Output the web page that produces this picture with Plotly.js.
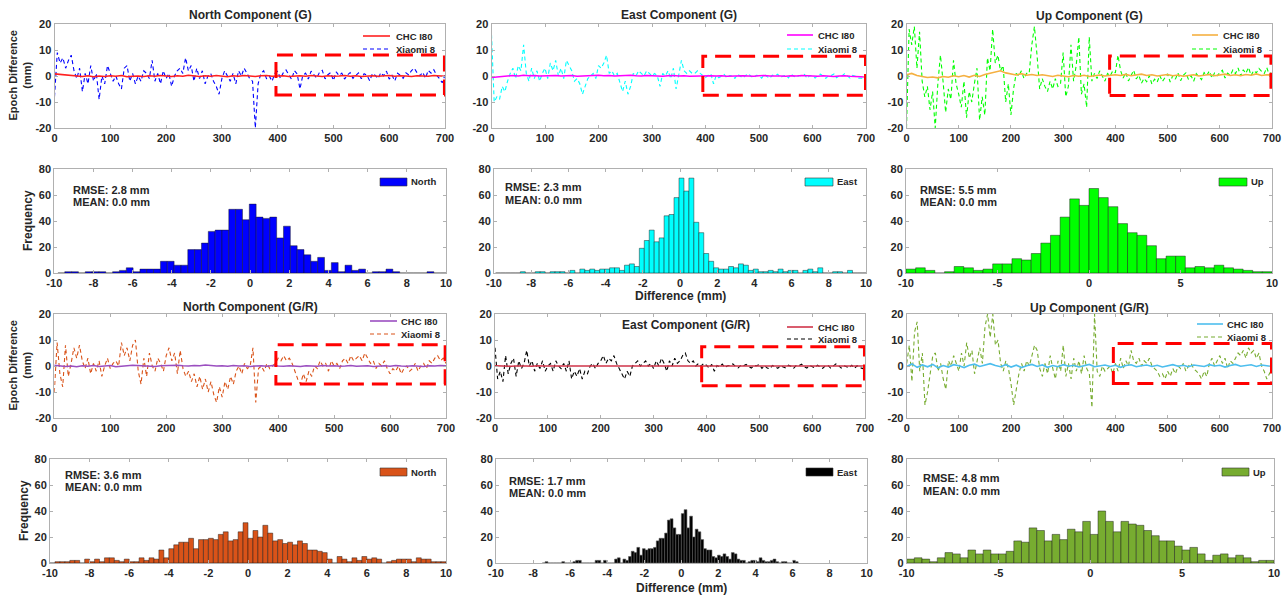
<!DOCTYPE html>
<html><head><meta charset="utf-8">
<script src="https://cdn.plot.ly/plotly-3.0.1.min.js"></script>
<style>html,body{margin:0;padding:0;background:#fff;} #chart{width:1287px;height:596px;}</style>
</head><body><div id="chart"></div>
<script>
// ---------------- DATA ----------------
const epochStepXiaomi = 5;   // epochs between read samples
const epochStepCHC = 10;

// Epoch difference (mm), Xiaomi 8, G solution
const northG_xiaomi = [-8,9,5,7,3,6,8,2,-1,3,-6,1,-3,4,-2,1,-9,0,-3,4,
 1,-2,0,-3,-5,3,4,-2,1,-3,0,-2,2,1,-1,6,-2,1,-3,2,
 -1,1,-4,0,2,3,1,7,2,4,-2,3,-1,2,-3,0,1,-2,-4,-7,
 -1,2,0,-2,1,-3,2,0,3,1,-1,-2,-20,-3,1,2,-1,0,-2,1,
 1.8,-0.9,1.2,2.3,0.4,-1.3,2.1,0.8,-5,0.2,1.1,-1.2,1.9,0.3,-0.8,1.4,2.2,-1.1,0.5,1.3,
 -1.7,1.6,0.2,1.1,-1.2,0.4,1.3,-0.9,0.1,1.2,-1.1,0.9,0.3,-1.8,1.0,0.2,-1.0,1.3,0.1,1.9,
 -1.2,0.3,-1.9,1.1,0.2,-0.9,1.2,0.4,2.1,3.0,1.2,0.1,1.4,-0.8,2.2,1.1,2.4,0.3,-1.0,-2.6,0.3];
const eastG_xiaomi = [16,-10,-8,-9,-4,-6,-2,1,3,-1,4,2,12,1,-2,3,-1,2,-2,1,
 3,-1,5,2,6,0,3,-1,6,4,2,-2,-1,-3,-7,-4,-1,0,1,-1,
 4,3,5,8,1,2,0,1,-3,-6,-2,-7,-4,1,0,2,1,0,2,1,
 0,1,0,-4,1,0,2,-1,3,-5,1,6,2,1,2,1,1,2,1,0,
 -0.6,0.3,0.8,-3,0.2,-0.7,0.1,0.6,-0.8,0.2,0.1,-0.9,0.7,0.0,-0.8,0.2,0.9,-0.1,-0.7,0.3,
 0.1,-0.8,0.6,-0.2,-0.9,0.3,0.1,0.7,-0.6,0.0,0.2,-0.7,0.8,-0.1,-0.6,0.2,0.1,0.6,-0.9,0.2,
 0.0,-0.8,0.3,0.7,-0.2,-0.9,0.1,0.2,0.8,-0.7,0.1,0.0,0.9,0.1,-0.8,0.2,-0.1,-0.9,-0.8,-1.0,-0.9];
const upG_xiaomi = [-20,18,12,19,3,17,-2,-8,-4,-13,-6,-20,-3,8,-2,-14,-5,-9,6,-3,
 -7,-12,-2,-16,-6,-10,-3,3,-17,-8,-15,7,2,18,5,8,2,4,-10,-3,
 -15,-5,1,0,2,-1,1,1,12,19,8,-5,-1,-4,-6,-2,-5,-1,-4,-3,
 9,-8,-4,12,-2,4,15,-7,-3,-12,15,-2,1,-1,2,0,-2,1,0,2,
 1.2,8,2.1,-0.8,1.3,-1.9,0.4,2.2,-1.1,0.3,-2.8,-0.9,-2.2,0.1,-3.1,-1.2,-2.4,0.2,-2.1,-0.7,
 0.8,-2.3,0.2,-1.2,1.1,-1.8,0.3,1.2,-1.3,0.1,-2.0,0.9,-0.2,-1.4,1.3,0.2,1.9,-0.8,1.2,0.1,
 1.3,2.2,-0.8,1.1,0.2,2.3,0.9,3.1,0.1,2.4,1.0,3.3,0.2,2.1,1.2,2.9,1.8,0.9,3.2,0.3,1.8];

// Epoch difference (mm), Xiaomi 8, G/R solution
const northGR_xiaomi = [-10,9,-3,-8,8,-4,1,7,3,8,2,-1,3,-3,1,-2,2,-4,0,3,
 -1,1,2,0,9,4,7,2,8,10,-2,-7,3,-4,5,0,-2,3,1,-2,
 4,7,2,5,-3,6,-1,-4,-2,-6,-3,-8,-4,-9,-5,-10,-6,-11,-14,-8,
 -12,-6,-9,-4,-7,-2,0,-3,1,-1,0,7,-14,-1,0,-2,1,-1,0,1,
 3,2,4,2,3,1,-2,-5,-7,-3,-6,-2,-4,0,-1,2,0,1,-2,2,
 0,1,-1,2,3,1,4,2,3,4,2,5,3,1,2,-1,1,0,2,-1,
 -3,-1,-2,0,-3,-1,0,-2,-1,1,-2,0,1,-1,2,1,3,4,2,3,1];
const eastGR_xiaomi = [7,-5,-2,-6,4,-3,1,3,-4,2,-1,1,6,0,2,-2,1,-1,2,-2,
 0,1,-2,2,0,-1,1,-2,2,-5,-2,-4,-1,-5,-2,-3,0,1,-1,1,
 2,4,1,3,2,4,1,-1,-3,-5,-2,-4,0,1,2,0,1,2,0,1,
 -1,2,0,3,1,-2,2,0,3,1,2,4,5,2,1,2,0,1,0,1,
 0.3,-0.8,0.6,-2,0.2,-0.3,0.7,-0.6,0.1,0.2,0.8,-0.2,-0.7,0.3,0.1,0.6,-0.2,-0.8,0.2,0.1,
 0.6,-0.9,0.1,-0.8,-1.1,0.2,-0.3,-0.9,0.1,-0.2,-0.8,0.3,-0.1,-0.9,0.2,0.1,0.7,-0.3,-0.8,0.2,
 -0.1,-0.7,0.3,-0.2,-0.9,0.1,0.2,-0.8,0.1,0.8,0.2,-0.8,0.1,-0.2,-0.7,0.3,-0.9,0.1,-0.3,-1.0,-0.2];
const upGR_xiaomi = [1,8,-6,13,17,-2,5,-15,-10,-3,4,5,-2,1,-5,-9,2,0,4,1,
 -2,5,0,9,3,6,-3,2,7,1,15,20,11,20,8,10,1,-2,2,-1,
 -7,-15,-9,-3,1,-2,2,0,4,8,6,-1,-4,1,-3,4,-1,-5,2,-2,
 8,-4,1,-5,3,-2,2,-3,4,-1,-3,-16,20,-2,-4,0,-2,-1,0,-3,
 1,-2,3,-1,2,0,6,2,1,3,0,2,1,3,0,-1,-2,-4,-3,-5,
 -2,-4,-1,-3,0,-1,1,-2,0,1,-1,-2,-3,-5,-2,-4,1,3,0,2,
 4,1,3,-1,2,1,3,5,4,6,3,7,5,6,3,5,0,-2,-5,-3,-1];

// Epoch difference (mm), CHC I80
const northG_chc = [0.8,0.6,0.5,0.3,0.1,-0.2,0.1,-0.3,0.0,-0.2,0.1,-0.1,0.2,-0.3,-0.1,0.0,-0.2,0.1,-0.1,0.2,
 0.0,-0.2,0.1,-0.1,0.3,0.0,-0.2,0.1,-0.1,0.2,0.0,-0.3,0.1,-0.1,0.2,0.0,-0.2,0.1,0.2,-0.1,
 0.0,0.1,-0.2,0.0,0.1,-0.1,0.2,0.0,-0.2,0.1,-0.1,0.0,0.2,-0.1,0.1,-0.2,0.0,0.1,-0.1,0.0,
 0.2,-0.1,0.1,0.0,-0.2,0.1,0.0,-0.1,0.2,0.0,-0.1];
const eastG_chc = [-0.6,-0.4,-0.2,0.1,0.2,0.0,0.3,0.1,0.2,0.0,0.1,0.3,0.2,0.0,0.1,0.2,-0.1,0.0,0.1,0.2,
 0.3,0.1,0.2,0.0,0.1,0.2,0.3,0.1,0.0,0.2,0.1,0.0,-0.1,0.1,0.2,0.0,0.1,-0.1,0.0,0.1,
 0.2,0.1,0.0,0.1,-0.1,0.0,0.2,0.1,0.0,-0.1,0.1,0.2,0.0,0.1,0.0,-0.1,0.1,0.0,0.2,0.1,
 0.0,-0.1,0.1,0.0,-0.2,0.0,0.1,-0.1,-0.2,-0.3,-0.4];
const upG_chc = [0.5,1.0,0.2,-0.3,-0.6,-0.4,-0.7,-0.2,-0.5,0.1,-0.3,0.2,-0.4,0.3,-0.2,0.6,1.1,1.6,2.0,1.2,
 0.8,0.4,0.9,0.3,0.6,0.2,0.5,0.1,-0.2,0.3,0.0,-0.3,0.2,-0.1,0.3,-0.2,0.1,0.4,0.0,0.3,
 0.5,0.2,0.6,0.1,0.4,0.7,0.2,0.5,0.0,0.3,0.6,0.1,0.4,-0.1,0.3,0.5,0.0,0.2,0.6,0.1,
 0.4,0.7,0.2,0.5,0.1,0.6,0.3,0.8,0.2,0.5,0.4];
const northGR_chc = [0.3,0.1,-0.2,0.0,-0.3,0.1,-0.1,0.2,-0.2,0.0,0.2,-0.3,0.0,0.1,0.3,0.2,0.1,0.0,-0.2,0.1,
 0.2,0.4,0.3,0.1,0.0,0.2,0.1,0.4,0.2,0.0,0.1,-0.1,0.2,0.0,0.1,-0.2,0.0,0.1,-0.1,0.2,
 0.0,-0.1,0.1,0.0,-0.2,0.1,0.0,-0.1,0.2,0.0,0.1,-0.1,0.0,0.2,-0.1,0.0,0.1,-0.2,0.0,0.1,
 -0.1,0.2,0.0,-0.1,0.1,0.0,-0.2,0.1,0.0,0.2,0.1];
const eastGR_chc = [0.1,0.0,0.1,-0.1,0.0,0.1,0.0,-0.1,0.1,0.0,0.0,0.1,-0.1,0.0,0.1,0.0,0.1,-0.1,0.0,0.1,
 0.0,0.1,0.0,-0.1,0.1,0.0,0.0,0.1,-0.1,0.0,0.1,0.0,-0.1,0.0,0.1,0.0,0.1,-0.1,0.0,0.0,
 0.1,0.0,-0.1,0.1,0.0,0.0,-0.1,0.1,0.0,0.1,0.0,-0.1,0.0,0.1,0.0,-0.1,0.1,0.0,0.0,-0.1,
 0.1,0.0,0.0,-0.1,0.1,0.0,-0.1,0.0,0.1,0.0,0.0];
const upGR_chc = [-0.2,0.8,-0.5,0.4,-0.3,0.6,-0.7,0.2,-0.4,0.5,0.1,-0.6,0.3,0.7,-0.2,0.4,0.9,0.2,-0.3,0.5,
 -0.4,0.3,-0.6,0.1,0.6,-0.2,0.4,-0.5,0.2,-0.3,0.5,-0.1,0.3,-0.4,0.2,0.6,-0.3,0.1,0.4,-0.2,
 0.3,-0.5,0.2,0.5,-0.3,0.1,0.4,-0.2,0.3,-0.4,0.2,0.5,-0.1,0.3,-0.3,0.4,0.1,-0.2,0.5,0.0,
 0.3,-0.4,0.2,0.6,-0.1,0.3,0.5,-0.2,0.4,0.1,-0.2];

// Histograms of Xiaomi differences: first bin edge, bin width (mm), counts
const northG_hist  = {start:-9.815, width:0.349, counts:[0,1,1,0,1,1,1,0,1,2,4,1,3,3,3,9,9,6,6,18,18,23,32,33,33,49,49,41,53,43,42,43,27,36,21,18,14,9,12,2,8,1,6,2,3,0,1,1,3,1,0,0,0,0,1,0,0]};
const eastG_hist   = {start:-9.915, width:0.2665, counts:[0,0,0,0,0,1,0,0,1,1,0,1,1,1,0,2,0,3,2,3,2,3,3,4,4,2,6,7,5,19,25,33,24,27,44,45,58,73,63,73,39,31,15,9,4,3,3,5,4,7,6,2,3,1,1,2,1,3,1,2,2,0,2,3,1,4,0,0,1,1,0,2,0,0,0]};
const upG_hist     = {start:-10, width:20/38, counts:[3,4,2,0,1,5,4,2,3,7,7,11,10,15,23,29,43,57,52,65,58,51,38,31,29,21,11,13,13,4,5,4,6,4,3,2,1,1]};
const northGR_hist = {start:-10, width:0.25, counts:[0,1,1,1,2,2,0,3,1,3,1,4,4,2,1,3,1,1,4,2,4,3,10,4,11,14,16,16,19,11,18,18,19,18,22,24,17,18,24,31,19,25,20,29,23,17,18,15,16,14,17,15,10,10,9,8,3,0,5,3,1,4,2,5,3,4,3,0,1,2,3,3,3,1,4,3,3,1,1,1]};
const eastGR_hist  = {start:-7.5, width:0.15, counts:[0,1,0,0,0,0,0,1,0,0,0,1,2,2,0,0,0,0,0,2,2,0,2,0,0,0,3,4,0,3,2,5,9,8,12,6,11,10,11,11,12,17,19,19,23,33,34,27,22,22,38,41,27,36,20,26,24,18,11,10,10,5,4,6,5,7,5,3,8,7,3,2,2,0,1,2,2,1,4,2,1,1,2,3,1,0,1,1,0,0,2,1]};
const upGR_hist    = {start:-10, width:20/48, counts:[3,4,3,1,4,8,7,4,10,7,10,7,7,9,17,16,27,25,17,22,18,26,24,32,22,40,32,24,32,30,29,25,21,17,17,13,10,12,7,2,6,7,4,6,4,1,2,2]};

const rmseValues = ['2.8','2.3','5.5','3.6','1.7','4.8'];
const meanValues = ['0.0','0.0','0.0','0.0','0.0','0.0'];
const histNames = ['North','East','Up','North','East','Up'];
const tsTitles = ['North Component (G)','East Component (G)','Up Component (G)','North Component (G/R)','East Component (G/R)','Up Component (G/R)'];
const seriesNames = ['CHC I80','Xiaomi 8'];

// tick labels (ASCII hyphen as in the original figure)
const epochTicks = [0,100,200,300,400,500,600,700];
const epochTickText = ['0','100','200','300','400','500','600','700'];
const diffTicks = [-20,-10,0,10,20];
const diffTickText = ['-20','-10','0','10','20'];
const histTicks2 = [-10,-8,-6,-4,-2,0,2,4,6,8,10];
const histTickText2 = ['-10','-8','-6','-4','-2','0','2','4','6','8','10'];
const histTicks5 = [-10,-5,0,5,10];
const histTickText5 = ['-10','-5','0','5','10'];
const freqTicks = [0,20,40,60,80];
const freqTickText = ['0','20','40','60','80'];

// highlighted epoch windows [epochStart, epochEnd, low, high]
const zoomBoxes = [[397,699,-7.3,8.1],[395,699,-7.4,7.6],[389,698,-7.5,7.7],[396,698.5,-6.9,8.2],[391,699,-7.6,7.4],[396,699,-6.7,8.7]];

// ---------------- LAYOUT / STYLE ----------------
const W = 1287, H = 596;
const F = 'Liberation Sans, Arial, Helvetica, sans-serif';
const TXT = '#262626', AX = '#b0b0b0';
const PX = v => v / W, PY = v => 1 - v / H;

const panels = [
 {kind:'ts', xd:[54.5,445], yd:[24,128], xi:northG_xiaomi, ch:northG_chc, cx:'#0000FF', cc:'#FF2020', t:0, title:[250,15], leg:[363,390,394,36,49], box:0},
 {kind:'ts', xd:[491.5,866], yd:[24,128], xi:eastG_xiaomi, ch:eastG_chc, cx:'#00FFFF', cc:'#FF00FF', t:1, title:[679,15], leg:[787,813,816,35,49], box:1},
 {kind:'ts', xd:[906.5,1272], yd:[24,128], xi:upG_xiaomi, ch:upG_chc, cx:'#00FF00', cc:'#F5B041', t:2, title:[1089,16], leg:[1192,1218,1221,35,49], box:2},
 {kind:'h', xd:[54.3,446], yd:[169,273], hist:northG_hist, col:'#0000FF', five:false, h:0, rm:[71,190,202], lg:[380,407,409,182]},
 {kind:'h', xd:[494,866], yd:[169,273], hist:eastG_hist, col:'#00FFFF', five:false, h:1, rm:[503,187,200], lg:[805,833,835,182]},
 {kind:'h', xd:[906,1272], yd:[169,273], hist:upG_hist, col:'#00FF00', five:true, h:2, rm:[918,190,202], lg:[1219,1247,1249,182]},
 {kind:'ts', xd:[54.3,446], yd:[314,418], xi:northGR_xiaomi, ch:northGR_chc, cx:'#D95319', cc:'#9B4FC0', t:3, title:[250,307], leg:[370,397,399,321,334], box:3},
 {kind:'ts', xd:[495,865], yd:[314,418], xi:eastGR_xiaomi, ch:eastGR_chc, cx:'#000000', cc:'#D0344A', t:4, title:[686,325], leg:[787,813,816,327,339], box:4},
 {kind:'ts', xd:[906.7,1272], yd:[314,418], xi:upGR_xiaomi, ch:upGR_chc, cx:'#77AC30', cc:'#4DBEEE', t:5, title:[1089,308], leg:[1197,1223,1225,324,337], box:5},
 {kind:'h', xd:[50,446], yd:[459,563], hist:northGR_hist, col:'#D95319', five:false, h:3, rm:[63,475,487], lg:[380,407,409,472]},
 {kind:'h', xd:[496,866.7], yd:[459,563], hist:eastGR_hist, col:'#000000', five:false, h:4, rm:[507,481,493], lg:[806,833,835,472]},
 {kind:'h', xd:[906.7,1274], yd:[459,563], hist:upGR_hist, col:'#77AC30', five:true, h:5, rm:[921,478,491], lg:[1222,1249,1251,472]}
];

const data = [], annotations = [], shapes = [];
const layout = {width:W, height:H, margin:{l:0,r:0,t:0,b:0}, paper_bgcolor:'#fff', plot_bgcolor:'#fff',
  showlegend:false, font:{family:F, color:TXT}, annotations, shapes};

function axisBase(){
  return {showline:true, mirror:'ticks', linecolor:AX, linewidth:1, ticks:'inside', ticklen:3, tickcolor:AX,
    showgrid:false, zeroline:false, fixedrange:true, tickmode:'array',
    tickfont:{family:F, size:11, color:TXT, weight:'bold'}};
}
function txt(x, y, s, size, opt){
  annotations.push(Object.assign({xref:'paper', yref:'paper', x:PX(x), y:PY(y), text:'<b>'+s+'</b>', showarrow:false,
    font:{family:F, size:size, color:TXT}, xanchor:'center', yanchor:'middle'}, opt||{}));
}

panels.forEach((p, i) => {
  const n = i + 1, xk = n === 1 ? 'xaxis' : 'xaxis' + n, yk = n === 1 ? 'yaxis' : 'yaxis' + n;
  const xr = n === 1 ? 'x' : 'x' + n, yr = n === 1 ? 'y' : 'y' + n;
  const xa = axisBase(), ya = axisBase();
  xa.domain = [PX(p.xd[0]), PX(p.xd[1])]; xa.anchor = yr;
  ya.domain = [PY(p.yd[1]), PY(p.yd[0])]; ya.anchor = xr;
  if (p.kind === 'ts') {
    xa.range = [0, 700]; xa.tickvals = epochTicks; xa.ticktext = epochTickText;
    ya.range = [-20, 20]; ya.tickvals = diffTicks; ya.ticktext = diffTickText;
    data.push({type:'scatter', mode:'lines', name:seriesNames[1], x:p.xi.map((_, k) => k * epochStepXiaomi), y:p.xi,
      xaxis:xr, yaxis:yr, line:{color:p.cx, width:1.1, dash:'4px,3px'}, hoverinfo:'skip'});
    data.push({type:'scatter', mode:'lines', name:seriesNames[0], x:p.ch.map((_, k) => k * epochStepCHC), y:p.ch,
      xaxis:xr, yaxis:yr, line:{color:p.cc, width:1.6}, hoverinfo:'skip'});
    txt(p.title[0], p.title[1], tsTitles[p.t], 12);
    // legend
    const L = p.leg;
    shapes.push({type:'line', xref:'paper', yref:'paper', x0:PX(L[0]), x1:PX(L[1]), y0:PY(L[3]), y1:PY(L[3]), line:{color:p.cc, width:1.6}});
    shapes.push({type:'line', xref:'paper', yref:'paper', x0:PX(L[0]), x1:PX(L[1]), y0:PY(L[4]), y1:PY(L[4]), line:{color:p.cx, width:1.2, dash:'4px,3px'}});
    txt(L[2], L[3], seriesNames[0], 9.5, {xanchor:'left'});
    txt(L[2], L[4], seriesNames[1], 9.5, {xanchor:'left'});
    const b = zoomBoxes[p.box];
    shapes.push({type:'rect', xref:xr, yref:yr, x0:b[0], x1:b[1], y0:b[2], y1:b[3],
      line:{color:'#FF0000', width:3, dash:'16px,8px'}, fillcolor:'rgba(0,0,0,0)', layer:'above'});
  } else {
    xa.range = [-10, 10];
    xa.tickvals = p.five ? histTicks5 : histTicks2; xa.ticktext = p.five ? histTickText5 : histTickText2;
    ya.range = [0, 80]; ya.tickvals = freqTicks; ya.ticktext = freqTickText;
    const hs = p.hist;
    data.push({type:'bar', name:histNames[p.h], x:hs.counts.map((_, k) => hs.start + hs.width * (k + 0.5)), y:hs.counts,
      width:hs.width, xaxis:xr, yaxis:yr, hoverinfo:'skip',
      marker:{color:p.col, line:{color:p.col === '#000000' ? '#555' : 'rgba(20,20,20,0.75)', width:0.6}}});
    txt(p.rm[0], p.rm[1], 'RMSE: ' + rmseValues[p.h] + ' mm', 11, {xanchor:'left'});
    txt(p.rm[0], p.rm[2], 'MEAN: ' + meanValues[p.h] + ' mm', 11, {xanchor:'left'});
    const L = p.lg;
    shapes.push({type:'rect', xref:'paper', yref:'paper', x0:PX(L[0]), x1:PX(L[1]), y0:PY(L[3] + 4), y1:PY(L[3] - 4),
      fillcolor:p.col, line:{color:'#333', width:0.6}});
    txt(L[2], L[3], histNames[p.h], 9.5, {xanchor:'left'});
  }
  layout[xk] = xa; layout[yk] = ya;
});

// axis titles
txt(19.5, 76, 'Epoch Difference<br>(mm)', 11, {textangle:-90});
txt(19.5, 366, 'Epoch Difference<br>(mm)', 11, {textangle:-90});
txt(28, 221, 'Frequency', 12, {textangle:-90});
txt(24, 511, 'Frequency', 12, {textangle:-90});
txt(680, 296, 'Difference (mm)', 12);
txt(681, 588, 'Difference (mm)', 12);

Plotly.newPlot('chart', data, layout, {displayModeBar:false, staticPlot:true});
</script></body></html>
